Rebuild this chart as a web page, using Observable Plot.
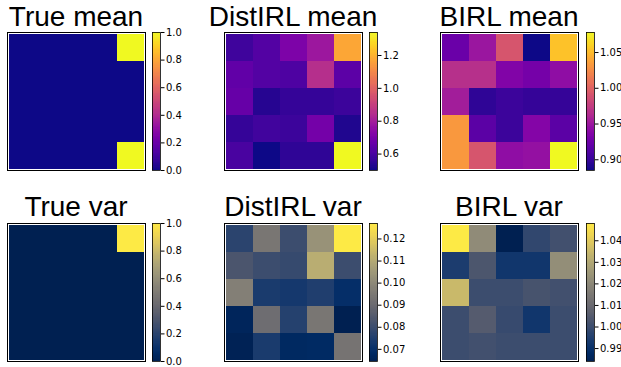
<!DOCTYPE html>
<html><head><meta charset="utf-8">
<script src="https://cdn.jsdelivr.net/npm/d3@7"></script>
<script src="https://cdn.jsdelivr.net/npm/@observablehq/plot@0.6"></script>
<style>
body{margin:0;background:#fff;}
#chart{position:relative;width:621px;height:367px;overflow:hidden;background:#fff;}
.title{position:absolute;font-family:"Liberation Sans",Arial,sans-serif;font-size:28px;color:#000;white-space:nowrap;transform:translateX(-50%);line-height:1;}
.abs{position:absolute;}
.abs svg{overflow:visible;max-width:none !important;display:block;}
</style></head><body><div id="chart"></div>
<script>
// grid indices
const rows = [0, 1, 2, 3, 4];
const cols = [0, 1, 2, 3, 4];

// panel titles
const titles = ["True mean", "DistIRL mean", "BIRL mean", "True var", "DistIRL var", "BIRL var"];

// cell values (row 0 = top)
const trueMean = [
  [0, 0, 0, 0, 1],
  [0, 0, 0, 0, 0],
  [0, 0, 0, 0, 0],
  [0, 0, 0, 0, 0],
  [0, 0, 0, 0, 1]
];
const distMean = [
  [0.58, 0.62, 0.71, 0.78, 1.17],
  [0.65, 0.62, 0.61, 0.85, 0.64],
  [0.66, 0.535, 0.56, 0.56, 0.575],
  [0.56, 0.585, 0.575, 0.69, 0.525],
  [0.60, 0.50, 0.55, 0.55, 1.34]
];
const birlMean = [
  [0.924, 0.949, 0.991, 0.885, 1.053],
  [0.966, 0.966, 0.935, 0.929, 0.943],
  [0.953, 0.897, 0.902, 0.899, 0.899],
  [1.032, 0.916, 0.902, 0.937, 0.916],
  [1.032, 0.991, 0.943, 0.945, 1.078]
];
const trueVar = [
  [0, 0, 0, 0, 1],
  [0, 0, 0, 0, 0],
  [0, 0, 0, 0, 0],
  [0, 0, 0, 0, 0],
  [0, 0, 0, 0, 0]
];
const distVar = [
  [0.077, 0.094, 0.080, 0.103, 0.127],
  [0.083, 0.080, 0.079, 0.111, 0.080],
  [0.097, 0.074, 0.073, 0.075, 0.0695],
  [0.066, 0.091, 0.076, 0.094, 0.0645],
  [0.065, 0.074, 0.0675, 0.068, 0.093]
];
const birlVar = [
  [1.048, 1.021, 0.984, 0.998, 1.001],
  [0.994, 1.003, 0.992, 0.992, 1.022],
  [1.035, 1.000, 1.000, 1.002, 1.001],
  [1.000, 1.005, 0.999, 0.992, 1.000],
  [1.000, 1.001, 1.000, 1.000, 1.000]
];

// colorbar tick labels
const unitTicks = [0.0, 0.2, 0.4, 0.6, 0.8, 1.0];
const distMeanTicks = [0.6, 0.8, 1.0, 1.2];
const birlMeanTicks = [0.90, 0.95, 1.00, 1.05];
const distVarTicks = [0.07, 0.08, 0.09, 0.10, 0.11, 0.12];
const birlVarTicks = [0.99, 1.00, 1.01, 1.02, 1.03, 1.04];

const panels = [
  {title: titles[0], data: trueMean, scheme: "plasma", ticks: unitTicks, fmt: ".1f", hx: 7, hy: 32, cx: 152, ty: 27},
  {title: titles[1], data: distMean, scheme: "plasma", ticks: distMeanTicks, fmt: ".1f", hx: 224, hy: 32, cx: 369, ty: 27},
  {title: titles[2], data: birlMean, scheme: "plasma", ticks: birlMeanTicks, fmt: ".2f", hx: 440, hy: 32, cx: 586, ty: 27},
  {title: titles[3], data: trueVar, scheme: "cividis", ticks: unitTicks, fmt: ".1f", hx: 7, hy: 223, cx: 152, ty: 217},
  {title: titles[4], data: distVar, scheme: "cividis", ticks: distVarTicks, fmt: ".2f", hx: 224, hy: 223, cx: 369, ty: 217},
  {title: titles[5], data: birlVar, scheme: "cividis", ticks: birlVarTicks, fmt: ".2f", hx: 440, hy: 223, cx: 586, ty: 217}
];

const chart = document.getElementById("chart");
const S = 138;      // heatmap size
const CBW = 8;      // colorbar width

function place(el, left, top, w, h) {
  const d = document.createElement("div");
  d.className = "abs";
  d.style.left = left + "px";
  d.style.top = top + "px";
  d.style.width = w + "px";
  d.style.height = h + "px";
  el.style.maxWidth = "none";
  d.appendChild(el);
  chart.appendChild(d);
}

for (const p of panels) {
  const cells = [];
  rows.forEach(r => cols.forEach(c => cells.push({r, c, v: p.data[r][c]})));
  const ext = d3.extent(cells, d => d.v);
  const color = {type: "linear", scheme: p.scheme, domain: ext};

  // title
  const t = document.createElement("div");
  t.className = "title";
  t.textContent = p.title;
  t.style.left = (p.hx + S / 2) + "px";
  t.style.top = (p.ty - 23.7) + "px";
  chart.appendChild(t);

  // heatmap
  const heat = Plot.plot({
    width: S + 2, height: S + 2, margin: 1,
    style: {background: "transparent", maxWidth: "none"},
    x: {type: "band", domain: cols, padding: 0, axis: null},
    y: {type: "band", domain: rows, padding: 0, axis: null},
    color,
    marks: [
      Plot.cell(cells, {x: "c", y: "r", fill: "v", inset: 0, shapeRendering: "crispEdges"}),
      Plot.frame({stroke: "black", strokeWidth: 1})
    ]
  });
  place(heat, p.hx - 1, p.hy - 1, S + 2, S + 2);

  // colorbar
  const N = 120;
  const steps = d3.range(N).map(i => {
    const a = ext[0] + (ext[1] - ext[0]) * i / N;
    const b = ext[0] + (ext[1] - ext[0]) * (i + 1) / N;
    return {a, b, m: (a + b) / 2};
  });
  const bar = Plot.plot({
    width: CBW + 42, height: S + 10,
    marginLeft: 0, marginRight: 42, marginTop: 5, marginBottom: 5,
    style: {background: "transparent", fontFamily: "DejaVu Sans", fontSize: "10px", color: "black", maxWidth: "none"},
    y: {domain: ext, axis: null},
    color,
    marks: [
      Plot.barY(steps, {y1: "a", y2: "b", fill: "m", shapeRendering: "crispEdges"}),
      Plot.frame({stroke: "black", strokeWidth: 0.8}),
      Plot.axisY({anchor: "right", ticks: p.ticks, tickFormat: d3.format(p.fmt), tickSize: 3.5, tickPadding: 2, fontSize: 10, fontFamily: "DejaVu Sans"})
    ]
  });
  place(bar, p.cx, p.hy - 5, CBW + 42, S + 10);
}
</script>
</body></html>
